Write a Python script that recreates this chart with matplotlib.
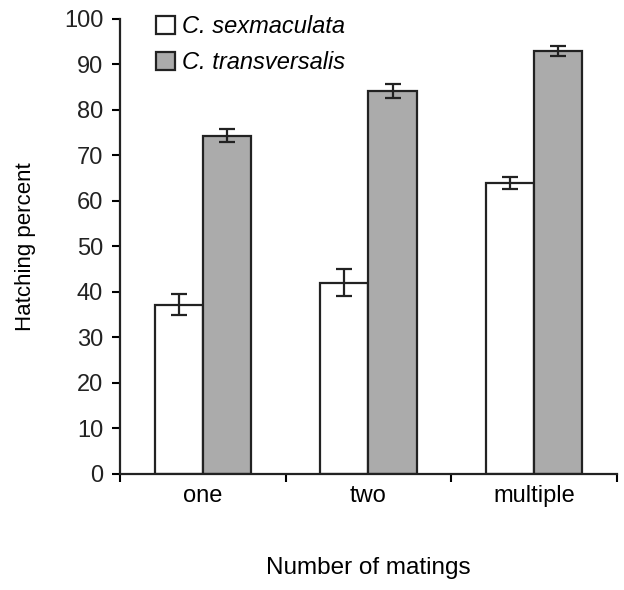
import numpy as np
import matplotlib
matplotlib.use('Agg')
import matplotlib.pyplot as plt

plt.rcParams['font.family'] = ['Liberation Sans', 'DejaVu Sans']

categories = ['one', 'two', 'multiple']
sexmaculata = [37.2, 42.0, 64.0]
sexmaculata_err = [2.3, 3.0, 1.3]
transversalis = [74.3, 84.2, 93.0]
transversalis_err = [1.4, 1.5, 1.1]

fig = plt.figure(figsize=(6.24, 5.9), dpi=100)
ax = fig.add_axes([0.192, 0.197, 0.797, 0.771])

x = np.arange(len(categories))
w = 0.29
ax.bar(x - w / 2, sexmaculata, w, yerr=sexmaculata_err, color='white',
       edgecolor='#222222', linewidth=1.6, capsize=6,
       error_kw=dict(elinewidth=1.6, capthick=1.6, ecolor='#222222'),
       label='C. sexmaculata')
ax.bar(x + w / 2, transversalis, w, yerr=transversalis_err, color='#ababab',
       edgecolor='#222222', linewidth=1.6, capsize=6,
       error_kw=dict(elinewidth=1.6, capthick=1.6, ecolor='#222222'),
       label='C. transversalis')

ax.set_xlim(-0.5, 2.5)
ax.set_ylim(0, 100)
ax.set_yticks(np.arange(0, 101, 10))
ax.set_xticks(np.arange(-0.5, 2.6, 1))
ax.set_xticklabels([])
ax.set_xticks(x, minor=True)
ax.set_xticklabels(categories, minor=True)
ax.tick_params(axis='x', which='minor', length=0, pad=8, labelsize=17)
ax.tick_params(axis='x', which='major', length=6, width=1.5, direction='out')
ax.tick_params(axis='y', length=6, width=1.5, direction='out', labelsize=17,
               pad=6, labelcolor='#222222')

for s in ['top', 'right']:
    ax.spines[s].set_visible(False)
for s in ['left', 'bottom']:
    ax.spines[s].set_linewidth(1.6)
    ax.spines[s].set_color('#222222')

ax.set_ylabel('Hatching percent', fontsize=16, labelpad=20)
ax.set_xlabel('Number of matings', fontsize=17.5, labelpad=36)

leg = ax.legend(loc='upper left', bbox_to_anchor=(0.03, 1.055), frameon=False,
                handlelength=0.8, handleheight=0.8, handletextpad=0.3,
                labelspacing=0.55, prop=dict(size=17, style='italic'))

fig.savefig('out.png', dpi=100)
